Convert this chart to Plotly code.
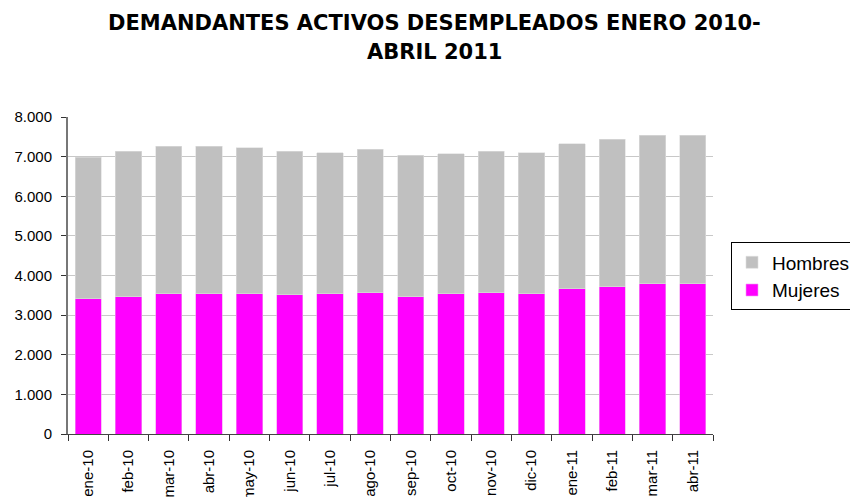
import plotly.graph_objects as go

months = ["ene-10", "feb-10", "mar-10", "abr-10", "may-10", "jun-10", "jul-10", "ago-10",
          "sep-10", "oct-10", "nov-10", "dic-10", "ene-11", "feb-11", "mar-11", "abr-11"]
mujeres = [3410, 3470, 3540, 3540, 3540, 3510, 3540, 3570,
           3470, 3540, 3570, 3540, 3670, 3720, 3790, 3790]
totales = [6990, 7130, 7260, 7260, 7220, 7130, 7100, 7190,
           7030, 7070, 7130, 7100, 7320, 7440, 7540, 7540]
hombres = [t - m for t, m in zip(totales, mujeres)]
title_lines = ["DEMANDANTES ACTIVOS DESEMPLEADOS ENERO 2010-", "ABRIL 2011"]

FONT = "Liberation Sans, Arial, sans-serif"
TFONT = "DejaVu Sans, sans-serif"

W, H = 850, 489
L, R, T, B = 60, 0, 109, 63
PW = W - L - R

fig = go.Figure()
fig.add_trace(go.Bar(x=months, y=mujeres, name="Mujeres",
                     marker=dict(color="#FF00FF", line=dict(color="#F0A0F0", width=0.6))))
fig.add_trace(go.Bar(x=months, y=hombres, name="Hombres",
                     marker=dict(color="#C0C0C0", line=dict(color="#DDDDDD", width=0.6))))

fig.update_layout(
    barmode="stack",
    bargap=0.35,
    width=W, height=H,
    paper_bgcolor="white", plot_bgcolor="white",
    margin=dict(l=L, r=R, t=T, b=B),
    separators=",.",
    font=dict(family=FONT, color="black", size=15),
    legend=dict(x=(723 - L) / PW, xanchor="left", y=0.497, yanchor="middle",
                traceorder="reversed", bordercolor="black", borderwidth=1,
                font=dict(family=FONT, size=19, color="black"),
                itemwidth=30),
    showlegend=True,
)
for txt, yy in zip(title_lines, [1.297, 1.205]):
    fig.add_annotation(text="<b>" + txt + "</b>", xref="paper", yref="paper",
                       x=(426.5 - L) / PW, y=yy, xanchor="center", yanchor="middle",
                       showarrow=False, font=dict(family=TFONT, size=21, color="black"))

fig.update_xaxes(
    domain=[0, 645 / PW],
    tickangle=-90, ticks="outside", tickson="boundaries", ticklen=6,
    tickcolor="#333333", showline=True, linecolor="#444444", linewidth=1,
    tickfont=dict(family=FONT, size=15, color="black"), automargin=False,
    ticklabelstandoff=9,
)
fig.update_yaxes(
    range=[0, 8000], dtick=1000, tickformat=",d",
    ticks="outside", ticklen=5, tickcolor="#333333",
    showline=True, linecolor="#777777", linewidth=2,
    showgrid=True, gridcolor="#C8C8C8", gridwidth=1,
    tickfont=dict(family=FONT, size=15, color="black"), automargin=False,
    zeroline=False, ticklabelstandoff=6,
)
fig.write_html("out.html")
